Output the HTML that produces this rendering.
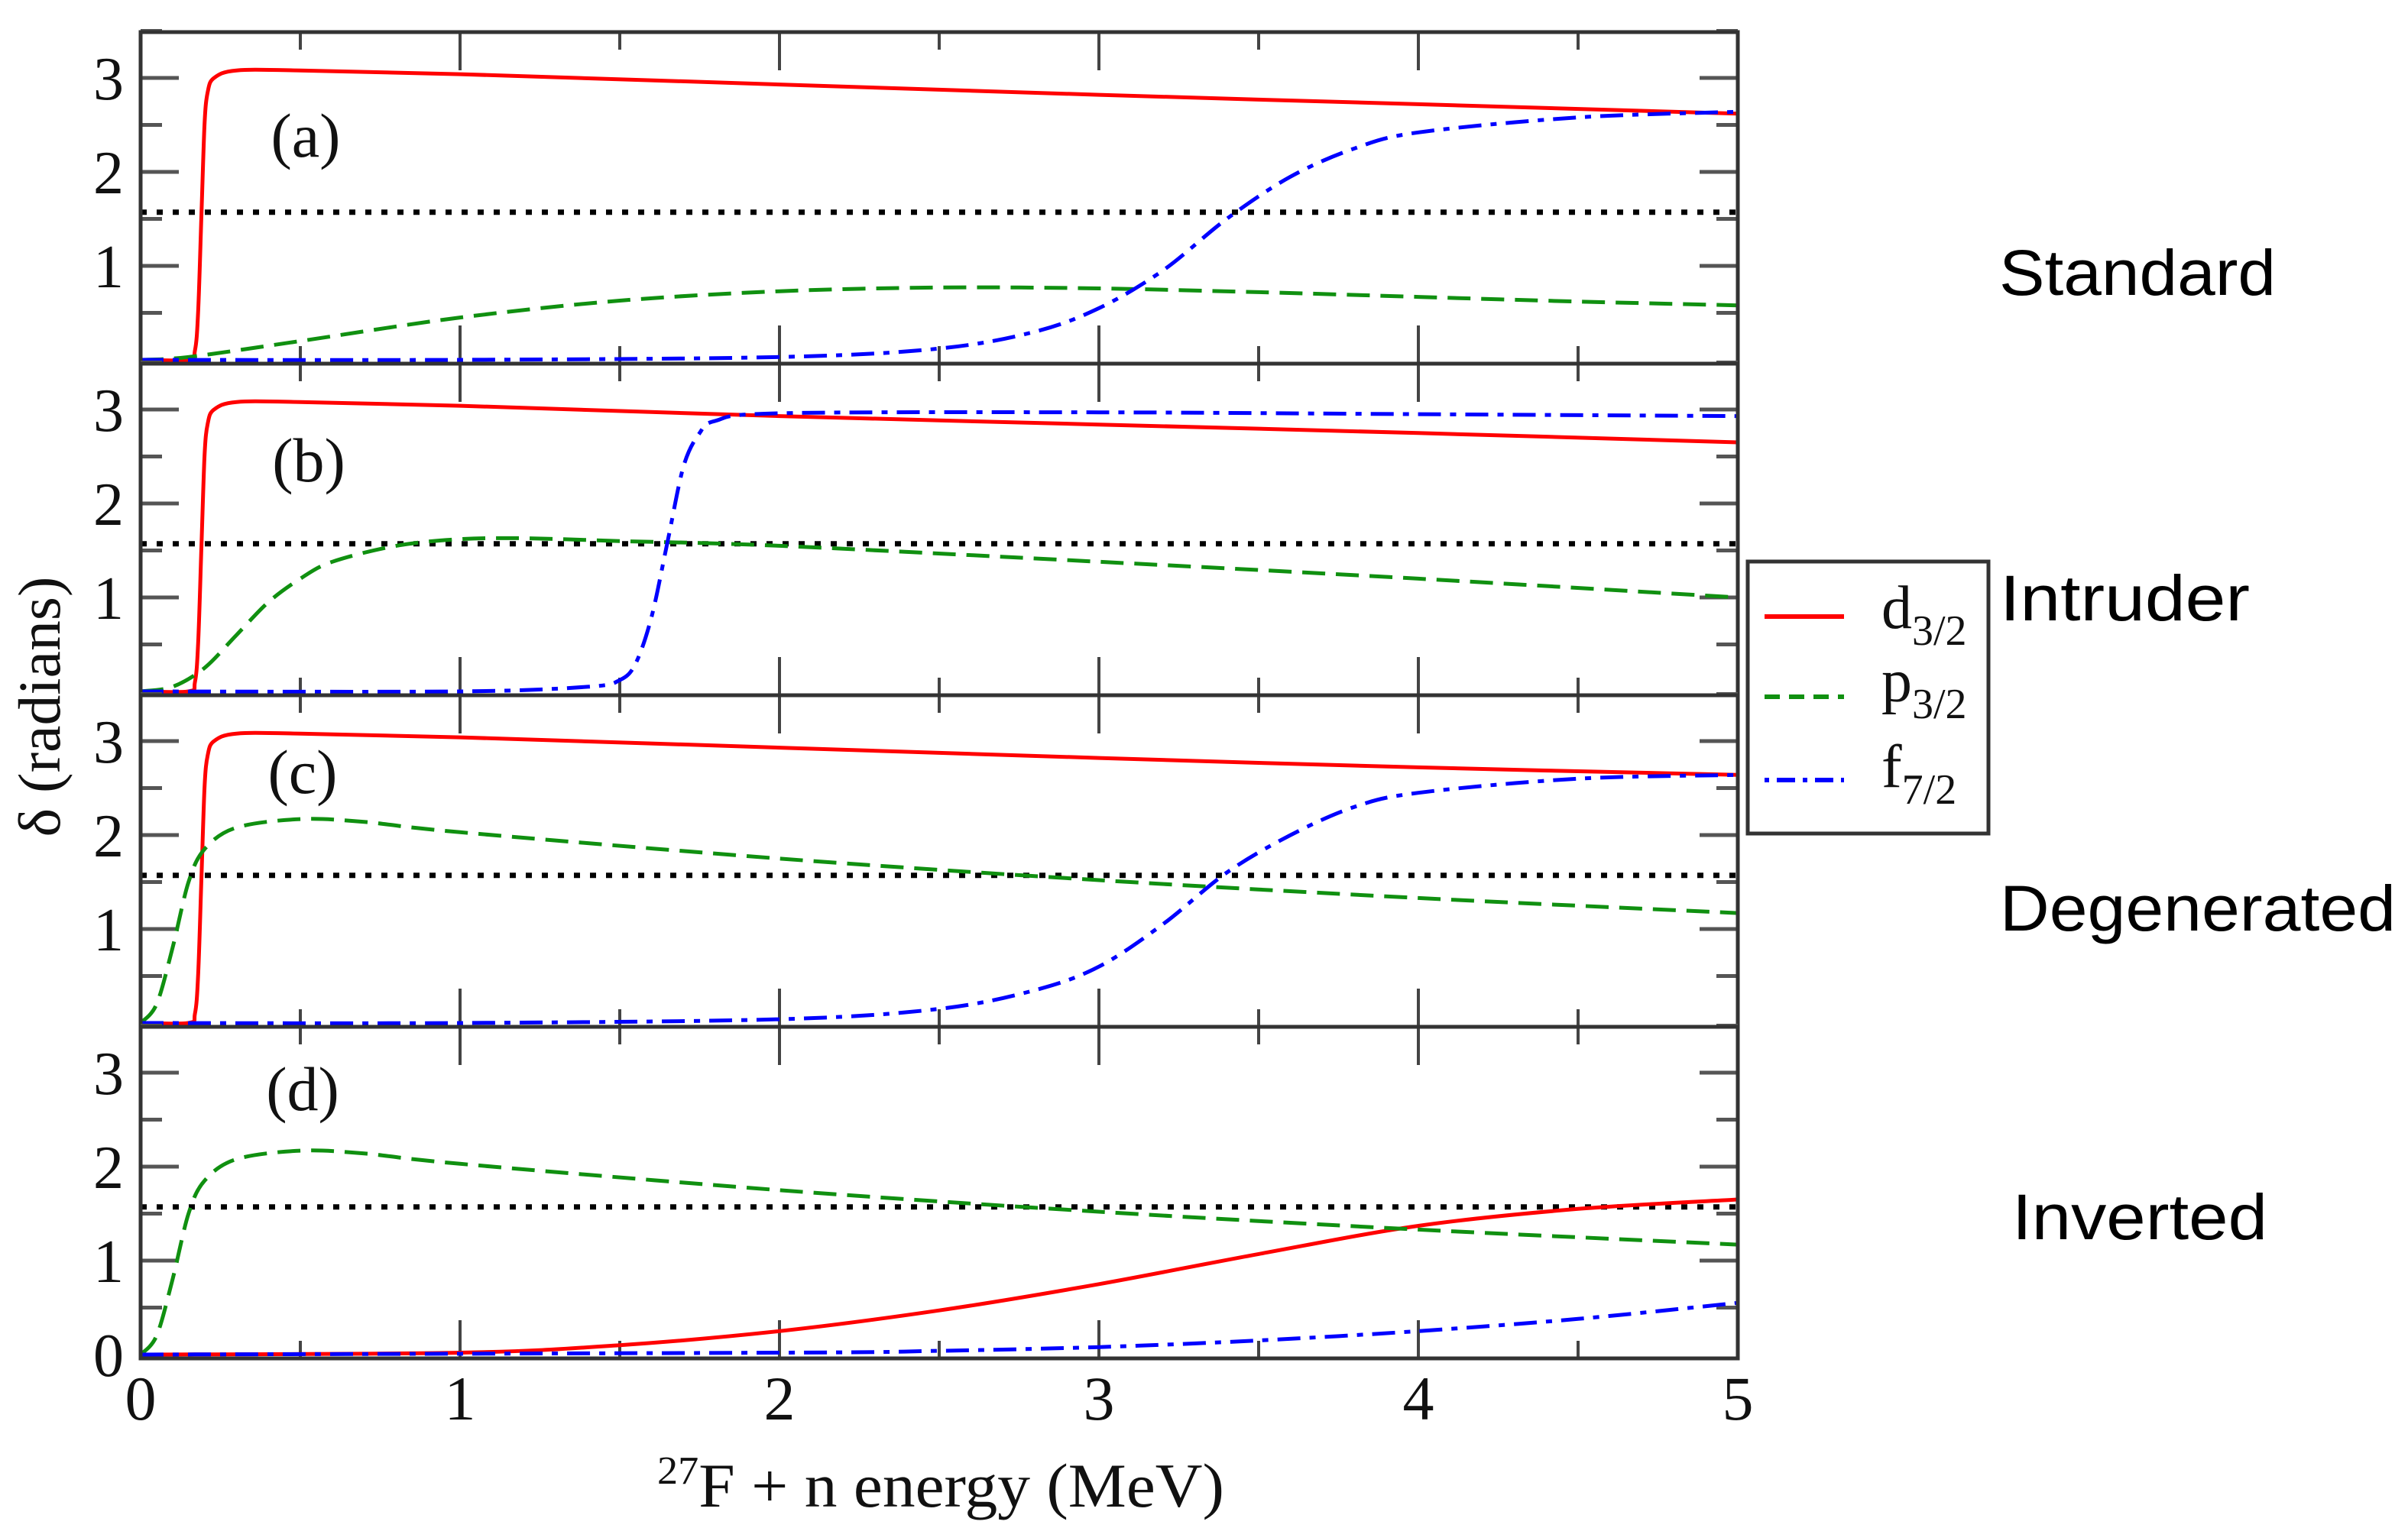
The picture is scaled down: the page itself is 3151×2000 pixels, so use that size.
<!DOCTYPE html>
<html><head><meta charset="utf-8"><style>
html,body{margin:0;padding:0;background:#fff;}
svg{display:block;}
</style></head><body>
<svg id="chart" width="3151" height="2000" viewBox="0 0 3151 2000" xmlns="http://www.w3.org/2000/svg">
<g id="panels"></g>
<g id="labels" font-family="Liberation Serif, serif" fill="#111">
  <text x="860" y="1972" font-size="82" textLength="742" lengthAdjust="spacingAndGlyphs"><tspan font-size="52" dy="-30">27</tspan><tspan dy="30">F + n  energy (MeV)</tspan></text>
  <text transform="translate(78,925) rotate(-90)" text-anchor="middle" font-size="78" textLength="341" lengthAdjust="spacingAndGlyphs">δ (radians)</text>
</g>
<g id="scenario-labels" font-family="Liberation Sans, sans-serif" font-size="84" fill="#000">
  <text x="2616" y="386" textLength="362" lengthAdjust="spacingAndGlyphs">Standard</text>
  <text x="2617" y="812" textLength="327" lengthAdjust="spacingAndGlyphs">Intruder</text>
  <text x="2617" y="1218" textLength="518" lengthAdjust="spacingAndGlyphs">Degenerated</text>
  <text x="2633" y="1622" textLength="334" lengthAdjust="spacingAndGlyphs">Inverted</text>
</g>
<g id="legend">
  <rect x="2287" y="735" width="315" height="356" fill="#fff" stroke="#333" stroke-width="5"/>
  <line x1="2309" y1="807" x2="2413" y2="807" stroke="#ff0000" stroke-width="6"/>
  <line x1="2309" y1="912" x2="2413" y2="912" stroke="#109010" stroke-width="6" stroke-dasharray="20,12"/>
  <line x1="2309" y1="1021" x2="2413" y2="1021" stroke="#0000ff" stroke-width="6" stroke-dasharray="6,10,24,10"/>
  <g font-family="Liberation Serif, serif" fill="#111" font-size="80">
    <text x="2462" y="822">d<tspan font-size="56" dy="22">3/2</tspan></text>
    <text x="2462" y="918">p<tspan font-size="56" dy="22">3/2</tspan></text>
    <text x="2462" y="1030">f<tspan font-size="56" dy="22">7/2</tspan></text>
  </g>
</g>
</svg>
<script>
// ---- data ----
const panelNames = ["a","b","c","d"];
const xTicks = [0,1,2,3,4,5];
const yTicks = [0,1,2,3];
const resonanceLine = 1.571;
const d32X_a = [0,0.15,0.17,0.18,0.19,0.2,0.21,0.23,0.3,0.5,1,2,3,4,5];
const d32Y_a = [0,0,0.1,0.5,1.5,2.5,2.85,3.0,3.08,3.08,3.04,2.93,2.82,2.72,2.62];
const p32X_a = [0,0.15,0.5,1,1.5,2,2.5,3,3.5,4,4.5,5];
const p32Y_a = [0,0.03,0.2,0.45,0.63,0.73,0.77,0.76,0.72,0.67,0.62,0.58];
const f72X_a = [0,1,2,2.5,2.8,3,3.2,3.4,3.6,3.8,4,4.5,5];
const f72Y_a = [0,0,0.03,0.12,0.3,0.55,0.95,1.5,1.95,2.25,2.42,2.58,2.64];
const d32X_b = [0,0.15,0.17,0.18,0.19,0.2,0.21,0.23,0.3,0.5,1,2,3,4,5];
const d32Y_b = [0,0,0.1,0.5,1.5,2.5,2.85,3.0,3.08,3.08,3.04,2.93,2.84,2.75,2.65];
const p32X_b = [0,0.1,0.2,0.3,0.4,0.5,0.6,0.8,1,1.2,1.5,2,3,4,5];
const p32Y_b = [0,0.05,0.25,0.6,0.95,1.2,1.38,1.55,1.62,1.63,1.6,1.55,1.38,1.2,1.0];
const f72X_b = [0,1,1.4,1.5,1.55,1.6,1.65,1.7,1.75,1.8,2,3,4,5];
const f72Y_b = [0,0,0.05,0.12,0.3,0.8,1.6,2.4,2.75,2.88,2.96,2.97,2.95,2.93];
const d32X_c = [0,0.15,0.17,0.18,0.19,0.2,0.21,0.23,0.3,0.5,1,2,3,4,5];
const d32Y_c = [0,0,0.1,0.5,1.5,2.5,2.85,3.0,3.08,3.08,3.04,2.93,2.82,2.72,2.64];
const p32X_c = [0,0.05,0.1,0.15,0.2,0.3,0.5,0.7,1,2,3,4,5];
const p32Y_c = [0,0.2,0.8,1.5,1.85,2.08,2.17,2.14,2.03,1.75,1.52,1.33,1.17];
const f72X_c = [0,1,2,2.5,2.8,3,3.2,3.4,3.6,3.8,4,4.5,5];
const f72Y_c = [0,0,0.04,0.15,0.35,0.6,1.05,1.6,2.0,2.3,2.45,2.6,2.64];
const d32X_d = [0,1,1.5,2,2.5,3,3.5,4,4.5,5];
const d32Y_d = [0,0.02,0.1,0.25,0.47,0.75,1.07,1.37,1.55,1.65];
const p32X_d = [0,0.05,0.1,0.15,0.2,0.3,0.5,0.7,1,2,3,4,5];
const p32Y_d = [0,0.2,0.8,1.5,1.85,2.08,2.17,2.14,2.03,1.75,1.52,1.33,1.17];
const f72X_d = [0,2,2.5,3,3.5,4,4.5,5];
const f72Y_d = [0,0.02,0.04,0.08,0.15,0.25,0.38,0.55];
const seriesData = {
  a:[[d32X_a,d32Y_a],[p32X_a,p32Y_a],[f72X_a,f72Y_a]],
  b:[[d32X_b,d32Y_b],[p32X_b,p32Y_b],[f72X_b,f72Y_b]],
  c:[[d32X_c,d32Y_c],[p32X_c,p32Y_c],[f72X_c,f72Y_c]],
  d:[[d32X_d,d32Y_d],[p32X_d,p32Y_d],[f72X_d,f72Y_d]]
};
// ---- layout ----
const NS="http://www.w3.org/2000/svg";
const L=184,R=2274,T0=42,PH=434;
const panelLabelPos=[[400,205],[404,630],[396,1038],[396,1453]];
const styles=[
 {name:"d32",stroke:"#ff0000",dash:"",w:5},
 {name:"p32",stroke:"#109010",dash:"30,14",w:5},
 {name:"f72",stroke:"#0000ff",dash:"30,12,8,12",w:5}];
function xs(v){return L+(v/5)*(R-L);}
function mk(tag,attrs,parent){const e=document.createElementNS(NS,tag);for(const k in attrs)e.setAttribute(k,attrs[k]);parent.appendChild(e);return e;}
function smoothPath(X,Y,ys){
  const P=X.map((x,i)=>[xs(x),ys(Y[i])]);
  let d="M"+P[0][0].toFixed(1)+","+P[0][1].toFixed(1);
  for(let i=0;i<P.length-1;i++){
    const p0=P[Math.max(0,i-1)],p1=P[i],p2=P[i+1],p3=P[Math.min(P.length-1,i+2)];
    const t=0.16;
    const c1=[p1[0]+(p2[0]-p0[0])*t,p1[1]+(p2[1]-p0[1])*t];
    const c2=[p2[0]-(p3[0]-p1[0])*t,p2[1]-(p3[1]-p1[1])*t];
    d+=" C"+c1.map(v=>v.toFixed(1)).join(",")+" "+c2.map(v=>v.toFixed(1)).join(",")+" "+p2[0].toFixed(1)+","+p2[1].toFixed(1);
  }
  return d;
}
const root=document.getElementById("panels");
panelNames.forEach((pn,pi)=>{
  const top=T0+pi*PH, bot=top+PH, y0=bot-5;
  const ys=v=>y0-v*123;
  const g=mk("g",{},root);
  
  
  const clipId="clip"+pn;
  const cp=mk("clipPath",{id:clipId},g); mk("rect",{x:L,y:top,width:R-L,height:PH},cp);
  // ticks
  for(let k=0;k<=10;k++){
    const v=k*0.5, x=xs(v), len=(k%2===0)?50:23;
    if(k===0||k===10) continue;
    const t1=mk("line",{x1:x,y1:top,x2:x,y2:top+len,stroke:"#444","stroke-width":4},g);
    
    
    const t2=mk("line",{x1:x,y1:bot,x2:x,y2:bot-len,stroke:"#444","stroke-width":4},g);
    
    
  }
  for(let k=1;k<=7;k++){
    const v=k*0.5, y=ys(v), len=(k%2===0)?50:28;
    const t1=mk("line",{x1:L,y1:y,x2:L+len,y2:y,stroke:"#555","stroke-width":5},g);
    
    
    const t2=mk("line",{x1:R,y1:y,x2:R-len,y2:y,stroke:"#555","stroke-width":5},g);
    
    
  }
  yTicks.forEach(v=>{
    if(v===0 && pi<3) return;
    const t=mk("text",{x:142,y:ys(v)+28,"text-anchor":"middle","font-family":"Liberation Serif, serif","font-size":80,fill:"#111"},g);
    t.textContent=v;
    
    
  });
  // resonance line
  const rl=mk("line",{x1:L,y1:ys(resonanceLine),x2:R,y2:ys(resonanceLine),stroke:"#000","stroke-width":7,"stroke-dasharray":"8,13"},g);
  
  
  // series
  const sg=mk("g",{"clip-path":"url(#"+clipId+")"},g);
  seriesData[pn].forEach((s,si)=>{
    const st=styles[si];
    const p=mk("path",{d:smoothPath(s[0],s[1],ys),fill:"none",stroke:st.stroke,"stroke-width":st.w,"stroke-linejoin":"round"},sg);
    if(st.dash)p.setAttribute("stroke-dasharray",st.dash);
    
    
  });
  // frame
  const fr=mk("rect",{x:L,y:top,width:R-L,height:PH,fill:"none",stroke:"#333","stroke-width":5},g);
  
  
  const lb=mk("text",{x:panelLabelPos[pi][0],y:panelLabelPos[pi][1],"text-anchor":"middle","font-family":"Liberation Serif, serif","font-size":82,fill:"#111"},g);
  lb.textContent="("+pn+")";
  
  
});
// x tick labels
const bottomG=mk("g",{},root);
xTicks.forEach(v=>{
  const t=mk("text",{x:xs(v),y:1858,"text-anchor":"middle","font-family":"Liberation Serif, serif","font-size":82,fill:"#111"},bottomG);
  t.textContent=v;
  
  
});
</script>
</body></html>
